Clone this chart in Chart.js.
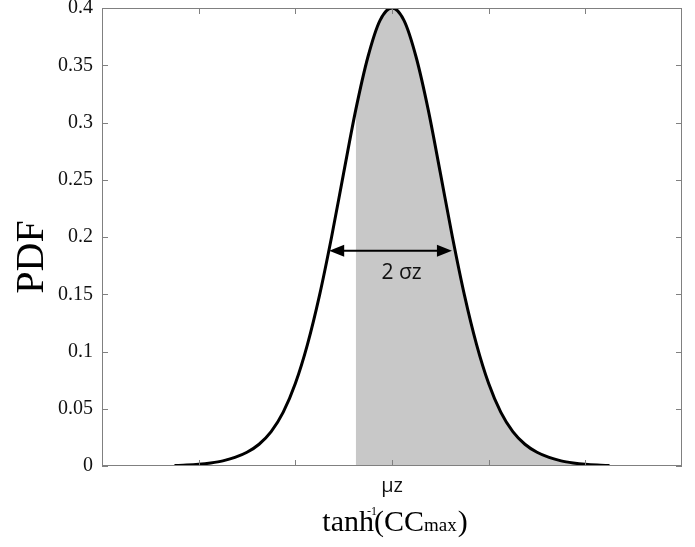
<!DOCTYPE html>
<html>
<head>
<meta charset="utf-8">
<script src="https://cdn.jsdelivr.net/npm/chart.js@4.4.1/dist/chart.umd.min.js"></script>
<style>
html,body{margin:0;padding:0;background:#fff;}
#wrap{width:695px;height:547px;position:relative;}
</style>
</head>
<body>
<div id="wrap"><canvas id="c" width="695" height="547"></canvas></div>
<script>
// x in tick units (mu_z = 0), y = PDF
const xValues = [-2.25,-2.125,-2,-1.875,-1.75,-1.625,-1.5,-1.375,-1.25,-1.125,-1,-0.875,-0.75,-0.625,-0.5,-0.375,-0.25,-0.125,0,0.125,0.25,0.375,0.5,0.625,0.75,0.875,1,1.125,1.25,1.375,1.5,1.625,1.75,1.875,2,2.125,2.25];
const pdfValues = [0.0004,0.0008,0.0015,0.0027,0.0045,0.0075,0.012,0.019,0.030,0.047,0.072,0.106,0.149,0.200,0.256,0.311,0.357,0.389,0.400,0.389,0.357,0.311,0.256,0.200,0.149,0.106,0.072,0.047,0.030,0.019,0.012,0.0075,0.0045,0.0027,0.0015,0.0008,0.0004];
const shadeStart = -0.375;
const xTickValues = [-2,-1,0,1,2];
const xTickLabels = ['','','μz','',''];
const yTickValues = [0,0.05,0.1,0.15,0.2,0.25,0.3,0.35,0.4];
const yTickLabels = ['0','0.05','0.1','0.15','0.2','0.25','0.3','0.35','0.4'];
const arrowY = 0.188;
const arrowFrom = -0.65;
const arrowTo = 0.62;
const arrowText = '2 σz';

const curve = xValues.map((x,i)=>({x:x,y:pdfValues[i]}));
const shade = curve.filter(p=>p.x>=shadeStart);

const decor = {
  id:'decor',
  afterDatasetsDraw(chart){
    const ctx = chart.ctx, xs = chart.scales.x, ys = chart.scales.y, a = chart.chartArea;
    ctx.save();
    // frame
    ctx.strokeStyle = '#808080';
    ctx.lineWidth = 1;
    ctx.strokeRect(a.left+0.5, a.top+0.5, a.right-a.left-1, a.bottom-a.top-1);
    // ticks
    ctx.beginPath();
    yTickValues.forEach(v=>{
      const y = Math.round(ys.getPixelForValue(v))+0.5;
      ctx.moveTo(a.left, y); ctx.lineTo(a.left+6, y);
      ctx.moveTo(a.right, y); ctx.lineTo(a.right-6, y);
    });
    xTickValues.forEach(v=>{
      const x = Math.round(xs.getPixelForValue(v))+0.5;
      ctx.moveTo(x, a.bottom); ctx.lineTo(x, a.bottom-6);
      ctx.moveTo(x, a.top); ctx.lineTo(x, a.top+6);
    });
    ctx.stroke();
    // arrow
    const ay = ys.getPixelForValue(arrowY);
    const x1 = xs.getPixelForValue(arrowFrom), x2 = xs.getPixelForValue(arrowTo);
    ctx.strokeStyle = '#000'; ctx.fillStyle = '#000'; ctx.lineWidth = 2;
    ctx.beginPath(); ctx.moveTo(x1+10, ay); ctx.lineTo(x2-10, ay); ctx.stroke();
    ctx.beginPath(); ctx.moveTo(x1, ay); ctx.lineTo(x1+15, ay-6); ctx.lineTo(x1+15, ay+6); ctx.closePath(); ctx.fill();
    ctx.beginPath(); ctx.moveTo(x2, ay); ctx.lineTo(x2-15, ay-6); ctx.lineTo(x2-15, ay+6); ctx.closePath(); ctx.fill();
    ctx.font = '21px "Open Sans"';
    ctx.textAlign = 'center'; ctx.textBaseline = 'alphabetic';
    ctx.fillStyle = '#111';
    ctx.fillText(arrowText, (x1+x2)/2+11, ay+28);
    // y title
    ctx.save();
    ctx.translate(43, 257);
    ctx.rotate(-Math.PI/2);
    ctx.font = '40px "Liberation Serif"';
    ctx.textAlign = 'center'; ctx.textBaseline = 'alphabetic';
    ctx.fillStyle = '#000';
    ctx.fillText('PDF', 0, 0);
    ctx.restore();
    // x title: tanh^-1(CC_max)
    const big = '30px "Liberation Serif"', small = '19px "Liberation Serif"', sup = '12px "Liberation Serif"';
    ctx.fillStyle = '#000'; ctx.textAlign = 'left'; ctx.textBaseline = 'alphabetic';
    ctx.font = big; const wT = ctx.measureText('tanh').width, wP = ctx.measureText('(').width, wCC = ctx.measureText('CC').width, wR = ctx.measureText(')').width;
    ctx.font = small; const wM = ctx.measureText('max').width;
    const total = wT + wP + wCC + wM + 1 + wR;
    let x = 395 - total/2; const base = 531;
    ctx.font = big; ctx.fillText('tanh', x, base);
    ctx.font = sup; ctx.fillText('-1', x + wT - 7, base - 16);
    x += wT;
    ctx.font = big; ctx.fillText('(', x, base); x += wP;
    ctx.fillText('CC', x, base); x += wCC;
    ctx.font = small; ctx.fillText('max', x, base); x += wM + 1;
    ctx.font = big; ctx.fillText(')', x, base);
    ctx.restore();
  }
};

new Chart(document.getElementById('c'), {
  type:'scatter',
  data:{datasets:[
    {data:curve, showLine:true, fill:false, borderColor:'#000', borderWidth:3, pointRadius:0, cubicInterpolationMode:'monotone'},
    {data:shade, showLine:true, fill:'origin', backgroundColor:'#c8c8c8', borderWidth:0, borderColor:'rgba(0,0,0,0)', pointRadius:0, cubicInterpolationMode:'monotone'}
  ]},
  options:{
    responsive:false, animation:false, events:[],
    layout:{padding:{left:0,right:13,top:8,bottom:0}},
    plugins:{legend:{display:false}, tooltip:{enabled:false}},
    scales:{
      x:{type:'linear', min:-3, max:3,
        afterBuildTicks(s){ s.ticks = xTickValues.map(v=>({value:v})); },
        afterFit(s){ s.height = 81; s.paddingLeft = 0; s.paddingRight = 0; },
        grid:{display:false}, border:{display:false},
        ticks:{padding:0, color:'#111', font:{family:'"Open Sans"', size:20},
          callback:(v)=>{ const i = xTickValues.indexOf(v); return i>=0 ? xTickLabels[i] : ''; }}
      },
      y:{type:'linear', min:0, max:0.4,
        afterBuildTicks(s){ s.ticks = yTickValues.map(v=>({value:v})); },
        afterFit(s){ s.width = 102; s.paddingTop = 0; s.paddingBottom = 0; },
        grid:{display:false}, border:{display:false},
        ticks:{padding:1, color:'#111', font:{family:'"Liberation Serif"', size:20},
          callback:(v)=>{ const i = yTickValues.findIndex(t=>Math.abs(t-v)<1e-9); return i>=0 ? yTickLabels[i] : ''; }}
      }
    }
  },
  plugins:[decor]
});
</script>
</body>
</html>
